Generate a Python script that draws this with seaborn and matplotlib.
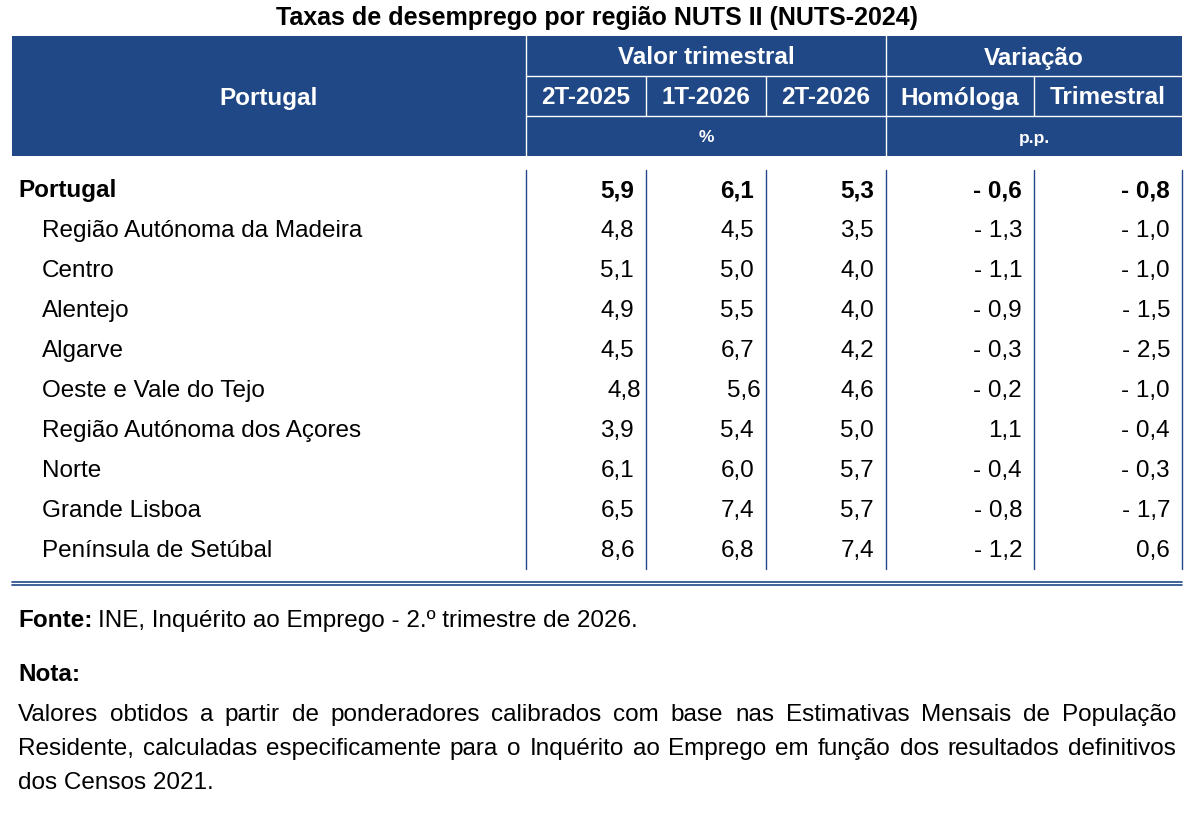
import matplotlib.pyplot as plt
import seaborn as sns

sns.set_theme(style="white")
plt.rcParams["font.family"] = ["Liberation Sans", "DejaVu Sans"]
plt.rcParams["text.color"] = "black"

regioes = ["Portugal", "Região Autónoma da Madeira", "Centro", "Alentejo", "Algarve",
           "Oeste e Vale do Tejo", "Região Autónoma dos Açores", "Norte", "Grande Lisboa",
           "Península de Setúbal"]
t2_2025 = ["5,9", "4,8", "5,1", "4,9", "4,5", "4,8", "3,9", "6,1", "6,5", "8,6"]
t1_2026 = ["6,1", "4,5", "5,0", "5,5", "6,7", "5,6", "5,4", "6,0", "7,4", "6,8"]
t2_2026 = ["5,3", "3,5", "4,0", "4,0", "4,2", "4,6", "5,0", "5,7", "5,7", "7,4"]
homologa = ["- 0,6", "- 1,3", "- 1,1", "- 0,9", "- 0,3", "- 0,2", "1,1", "- 0,4", "- 0,8", "- 1,2"]
trimestral = ["- 0,8", "- 1,0", "- 1,0", "- 1,5", "- 2,5", "- 1,0", "- 0,4", "- 0,3", "- 1,7", "0,6"]
periodos = ["2T-2025", "1T-2026", "2T-2026"]
variacoes = ["Homóloga", "Trimestral"]

BLUE = "#204886"
fig = plt.figure(figsize=(12.02, 8.28), dpi=100)
ax = fig.add_axes([0, 0, 1, 1])
ax.set_xlim(0, 1202)
ax.set_ylim(828, 0)
ax.axis("off")

cols = [526, 646, 766, 886, 1034, 1182]
fs = 17.5

ax.text(597, 18, "Taxas de desemprego por região NUTS II (NUTS-2024)", ha="center", va="center",
        fontsize=18, weight="bold")
ax.add_patch(plt.Rectangle((12, 37), 1170, 120, color=BLUE, lw=0))
# linhas brancas do cabeçalho
ax.plot([526, 526], [37, 157], color="white", lw=1)
ax.plot([886, 886], [37, 157], color="white", lw=1)
ax.plot([526, 1182], [77, 77], color="white", lw=1)
ax.plot([526, 1182], [117, 117], color="white", lw=1)
for x in cols[1:3] + [cols[4]]:
    ax.plot([x, x], [77, 117], color="white", lw=1)
ax.text(269, 98, "Portugal", ha="center", va="center", color="white", fontsize=fs, weight="bold")
ax.text(706, 58, "Valor trimestral", ha="center", va="center", color="white", fontsize=fs, weight="bold")
ax.text(1034, 58, "Variação", ha="center", va="center", color="white", fontsize=fs, weight="bold")
heads = periodos + variacoes
for i, h in enumerate(heads):
    ax.text((cols[i] + cols[i + 1]) / 2, 98, h, ha="center", va="center", color="white",
            fontsize=fs, weight="bold")
ax.text(706, 138, "%", ha="center", va="center", color="white", fontsize=12.5, weight="bold")
ax.text(1034, 138, "p.p.", ha="center", va="center", color="white", fontsize=12.5, weight="bold")

# linhas do corpo
for x in cols:
    ax.plot([x, x], [171, 570], color=BLUE, lw=1)
ax.plot([12, 1182], [583, 583], color=BLUE, lw=1.2)
ax.plot([12, 1182], [586, 586], color=BLUE, lw=1.2)

series = [t2_2025, t1_2026, t2_2026, homologa, trimestral]
for r, nome in enumerate(regioes):
    y = 191 + 40 * r
    bold = "bold" if r == 0 else "normal"
    ax.text(18 if r == 0 else 42, y, nome, ha="left", va="center", fontsize=fs, weight=bold)
    for c, s in enumerate(series):
        shift = -7 if (nome == "Oeste e Vale do Tejo" and c < 2) else 0
        ax.text(cols[c + 1] - 12 - shift, y, s[r], ha="right", va="center", fontsize=fs, weight=bold)

ax.text(18, 621, "Fonte:", ha="left", va="center", fontsize=fs, weight="bold")
ax.text(98, 621, "INE, Inquérito ao Emprego - 2.º trimestre de 2026.", ha="left", va="center", fontsize=fs)
ax.text(18, 675, "Nota:", ha="left", va="center", fontsize=fs, weight="bold")
nota = ["Valores obtidos a partir de ponderadores calibrados com base nas Estimativas Mensais de População",
        "Residente, calculadas especificamente para o Inquérito ao Emprego em função dos resultados definitivos",
        "dos Censos 2021."]

# texto justificado entre x=18 e x=1176
renderer = fig.canvas.get_renderer()
left, right = 18, 1176
for i, linha in enumerate(nota):
    y = 715 + 34 * i
    words = linha.split(" ")
    if i == len(nota) - 1:
        ax.text(left, y, linha, ha="left", va="center", fontsize=fs)
        continue
    arts = [ax.text(0, y, w, ha="left", va="center", fontsize=fs) for w in words]
    widths = [a.get_window_extent(renderer).width for a in arts]
    gap = (right - left - sum(widths)) / (len(words) - 1)
    x = left
    for a, w in zip(arts, widths):
        a.set_x(x)
        x += w + gap

fig.savefig("out.png", dpi=100)
